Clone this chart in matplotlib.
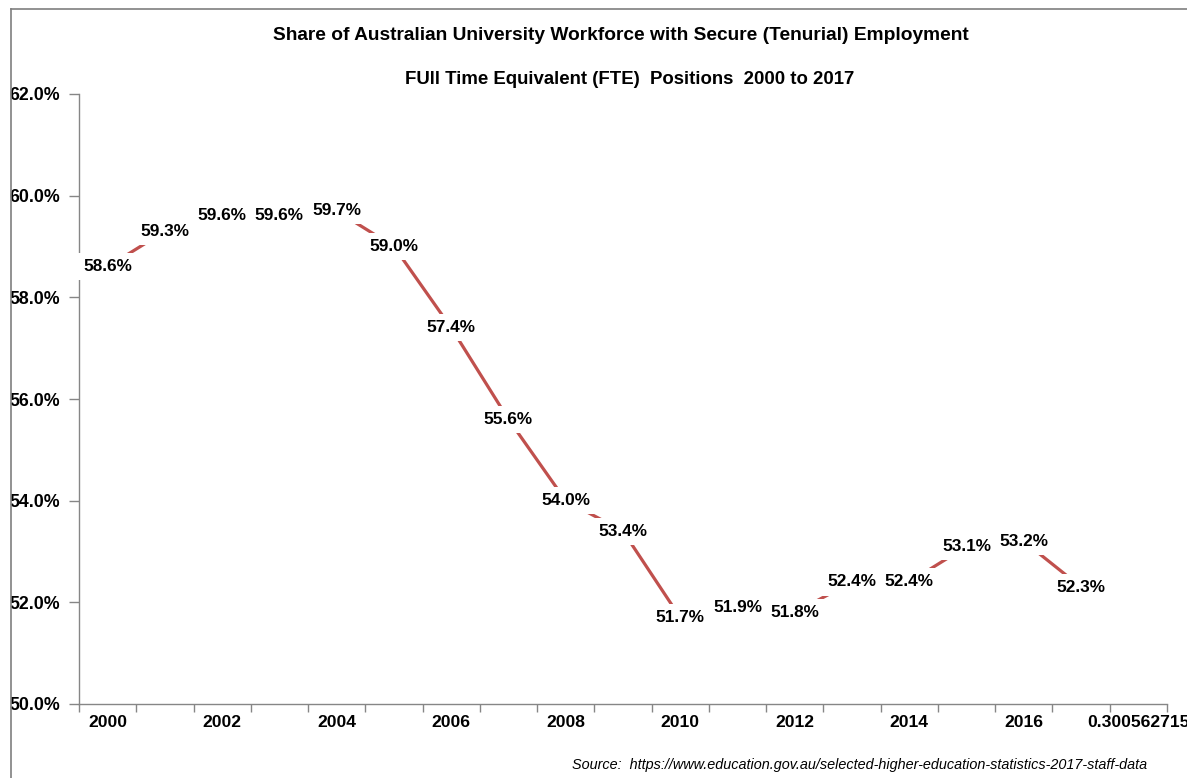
import matplotlib
matplotlib.use("Agg")
import matplotlib.pyplot as plt
from matplotlib.lines import Line2D
from matplotlib.ticker import FixedLocator, NullFormatter, FuncFormatter

# Share of the workforce in secure (tenurial) FTE positions, per cent
years = list(range(2000, 2018))
share = [58.6, 59.3, 59.6, 59.6, 59.7, 59.0, 57.4, 55.6, 54.0, 53.4,
         51.7, 51.9, 51.8, 52.4, 52.4, 53.1, 53.2, 52.3]
# category axis labels (the last category carries no value)
categories = [str(y) for y in years] + ["0.300562715"]
y_ticks = [50, 52, 54, 56, 58, 60, 62]

W, H = 1187, 778
fig = plt.figure(figsize=(W / 100, H / 100), dpi=100)
plt.rcParams['font.family'] = ['Liberation Sans', 'DejaVu Sans']

ax_l, ax_r, ax_t, ax_b = 79, 1167, 94, 704
ax = fig.add_axes([ax_l / W, 1 - ax_b / H, (ax_r - ax_l) / W, (ax_b - ax_t) / H])

x = list(range(len(years)))
line_color = "#C0504D"
ax.plot(x, share, color=line_color, lw=2.3, solid_capstyle="butt", zorder=2)

for xi, v in zip(x, share):
    ax.text(xi, v, f"{v:.1f}%", ha="center", va="center", fontsize=12.4,
            fontweight="bold", color="black", zorder=3,
            bbox=dict(boxstyle="square,pad=0.35", fc="white", ec="none"))

n = len(categories)
ax.set_xlim(-0.5, n - 0.5)
ax.set_ylim(50, 62)

# category boundaries carry the tick marks, every second category gets a label
ax.xaxis.set_major_locator(FixedLocator([i - 0.5 for i in range(n + 1)]))
ax.xaxis.set_major_formatter(NullFormatter())
label_pos = list(range(0, n, 2))
ax.xaxis.set_minor_locator(FixedLocator(label_pos))
ax.set_xticklabels([categories[i] for i in label_pos], minor=True)
ax.tick_params(axis="x", which="major", direction="out", length=6, color="#868686", width=1)
ax.tick_params(axis="x", which="minor", length=0, pad=8, labelsize=12.6)
for t in ax.get_xticklabels(minor=True):
    t.set_fontweight("bold")

ax.set_yticks(y_ticks)
ax.yaxis.set_major_formatter(FuncFormatter(lambda v, p: f"{v:.1f}%"))
ax.tick_params(axis="y", direction="out", length=7, color="#868686", width=1,
               labelsize=12.8, pad=6.5)
for t in ax.get_yticklabels():
    t.set_fontweight("bold")

for s in ("top", "right"):
    ax.spines[s].set_visible(False)
for s in ("left", "bottom"):
    ax.spines[s].set_color("#868686")
    ax.spines[s].set_linewidth(1)

# chart area border (top and left edges)
bx, by = 10.5 / W, 1 - 9 / H
fig.add_artist(Line2D([bx, 1.01], [by, by], transform=fig.transFigure, color="#7F7F7F", lw=1.2))
fig.add_artist(Line2D([bx, bx], [-0.01, by], transform=fig.transFigure, color="#7F7F7F", lw=1.2))

fig.text(621 / W, 1 - 36 / H,
         "Share of Australian University Workforce with Secure (Tenurial) Employment",
         ha="center", va="center", fontsize=13.8, fontweight="bold")
fig.text(630 / W, 1 - 80 / H,
         "FUll Time Equivalent (FTE)  Positions  2000 to 2017",
         ha="center", va="center", fontsize=13.4, fontweight="bold")
fig.text(1147 / W, 1 - 765 / H,
         "Source:  https://www.education.gov.au/selected-higher-education-statistics-2017-staff-data",
         ha="right", va="center", fontsize=10.4, style="italic")

fig.savefig("out.png", dpi=100, facecolor="white")
